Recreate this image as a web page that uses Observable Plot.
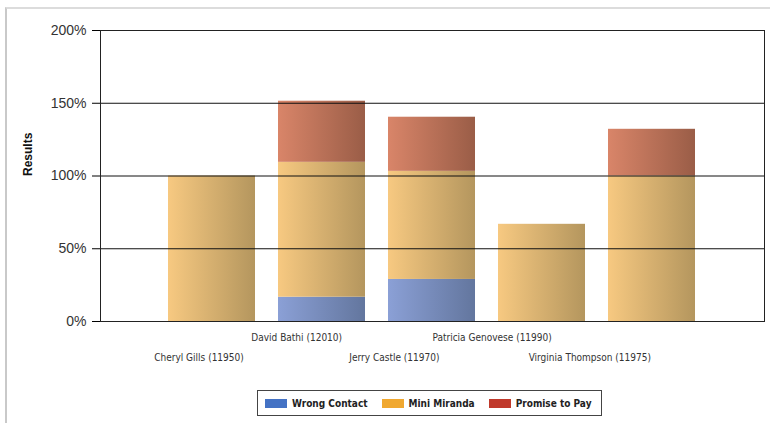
<!DOCTYPE html>
<html><head><meta charset="utf-8">
<script src="https://cdn.jsdelivr.net/npm/d3@7"></script>
<script src="https://cdn.jsdelivr.net/npm/@observablehq/plot@0.6"></script>
<style>
body{margin:0;background:#fff;}
#wrap{position:absolute;left:5px;top:7px;width:763px;height:414px;border-left:2px solid #c9c9c9;border-top:2px solid #dcdcdc;}
#chart{position:absolute;left:0;top:0;}
#legend{position:absolute;left:250px;top:381px;width:336px;height:24px;padding-left:7px;border:1px solid #444;display:flex;align-items:center;box-sizing:content-box;white-space:nowrap;
  font-family:"DejaVu Sans Condensed","Liberation Sans",sans-serif;font-weight:bold;font-size:10px;color:#222;}
#legend .item{display:flex;align-items:center;margin-right:14px;}
#legend .sw{width:22px;height:9px;margin-right:5px;}
</style>
</head><body>
<div id="wrap"><div id="chart"></div><div id="legend"></div></div>
<script>
const names = ["Cheryl Gills (11950)", "David Bathi (12010)", "Jerry Castle (11970)", "Patricia Genovese (11990)", "Virginia Thompson (11975)"];
const seriesNames = ["Wrong Contact", "Mini Miranda", "Promise to Pay"];
const wrongContact = [0, 16.7, 28.9, 0, 0];
const miniMiranda = [100, 92.7, 74.3, 66.8, 100];
const promiseToPay = [0, 42.0, 37.2, 0, 32.1];
const yTicks = [0, 50, 100, 150, 200];
const legendColors = ["#4472c4", "#f0a830", "#c0392b"];
const gradients = [
  {id: "gWC", from: "#8ba0d6", to: "#63769e"},
  {id: "gMM", from: "#f7c981", to: "#b4965e"},
  {id: "gPP", from: "#d98569", to: "#9a5d47"}
];

const seriesValues = [wrongContact, miniMiranda, promiseToPay];
const rows = [];
seriesNames.forEach((s, si) => names.forEach((n, i) => rows.push({name: n, series: s, value: seriesValues[si][i]})));

const labelFont = "'DejaVu Sans Condensed','Liberation Sans',sans-serif";
const nameMarks = names.map((n, i) => Plot.text([n], {
  x: d => d, frameAnchor: "bottom", dy: i % 2 === 0 ? 39 : 19, dx: -13 - 12.3 * i,
  fontSize: 10, fill: "#333", fontFamily: labelFont
}));

const svg = Plot.plot({
  width: 763, height: 370,
  marginLeft: 93, marginRight: 6, marginTop: 21, marginBottom: 58,
  style: {fontFamily: "'Liberation Sans',sans-serif", background: "#fff"},
  x: {domain: names, paddingInner: 0.205, paddingOuter: 0.6025, axis: null},
  y: {domain: [0, 200], axis: null},
  color: {domain: seriesNames, range: gradients.map(g => `url(#${g.id})`)},
  marks: [
    Plot.barY(rows, {x: "name", y: "value", fill: "series"}),
    Plot.ruleY(yTicks, {stroke: "#111", strokeWidth: 1}),
    Plot.frame({stroke: "#222"}),
    Plot.axisY({ticks: yTicks, tickFormat: d => d + "%", tickSize: 8, tickPadding: 6, fontSize: 14, fill: "#333", label: null}),
    Plot.text(["Results"], {frameAnchor: "left", dx: -72, rotate: -90, fontWeight: "bold", fontSize: 12, fill: "#111"}),
    ...nameMarks
  ]
});

const defs = d3.select(svg).insert("defs", ":first-child");
gradients.forEach(g => {
  const lg = defs.append("linearGradient").attr("id", g.id).attr("x1", "0").attr("x2", "1").attr("y1", "0").attr("y2", "0");
  lg.append("stop").attr("offset", "0").attr("stop-color", g.from);
  lg.append("stop").attr("offset", "1").attr("stop-color", g.to);
});
document.getElementById("chart").appendChild(svg);

const legend = document.getElementById("legend");
seriesNames.forEach((s, i) => {
  const it = document.createElement("div"); it.className = "item";
  const sw = document.createElement("div"); sw.className = "sw"; sw.style.background = legendColors[i];
  const tx = document.createElement("span"); tx.textContent = s;
  it.appendChild(sw); it.appendChild(tx); legend.appendChild(it);
});
</script>
</body></html>
